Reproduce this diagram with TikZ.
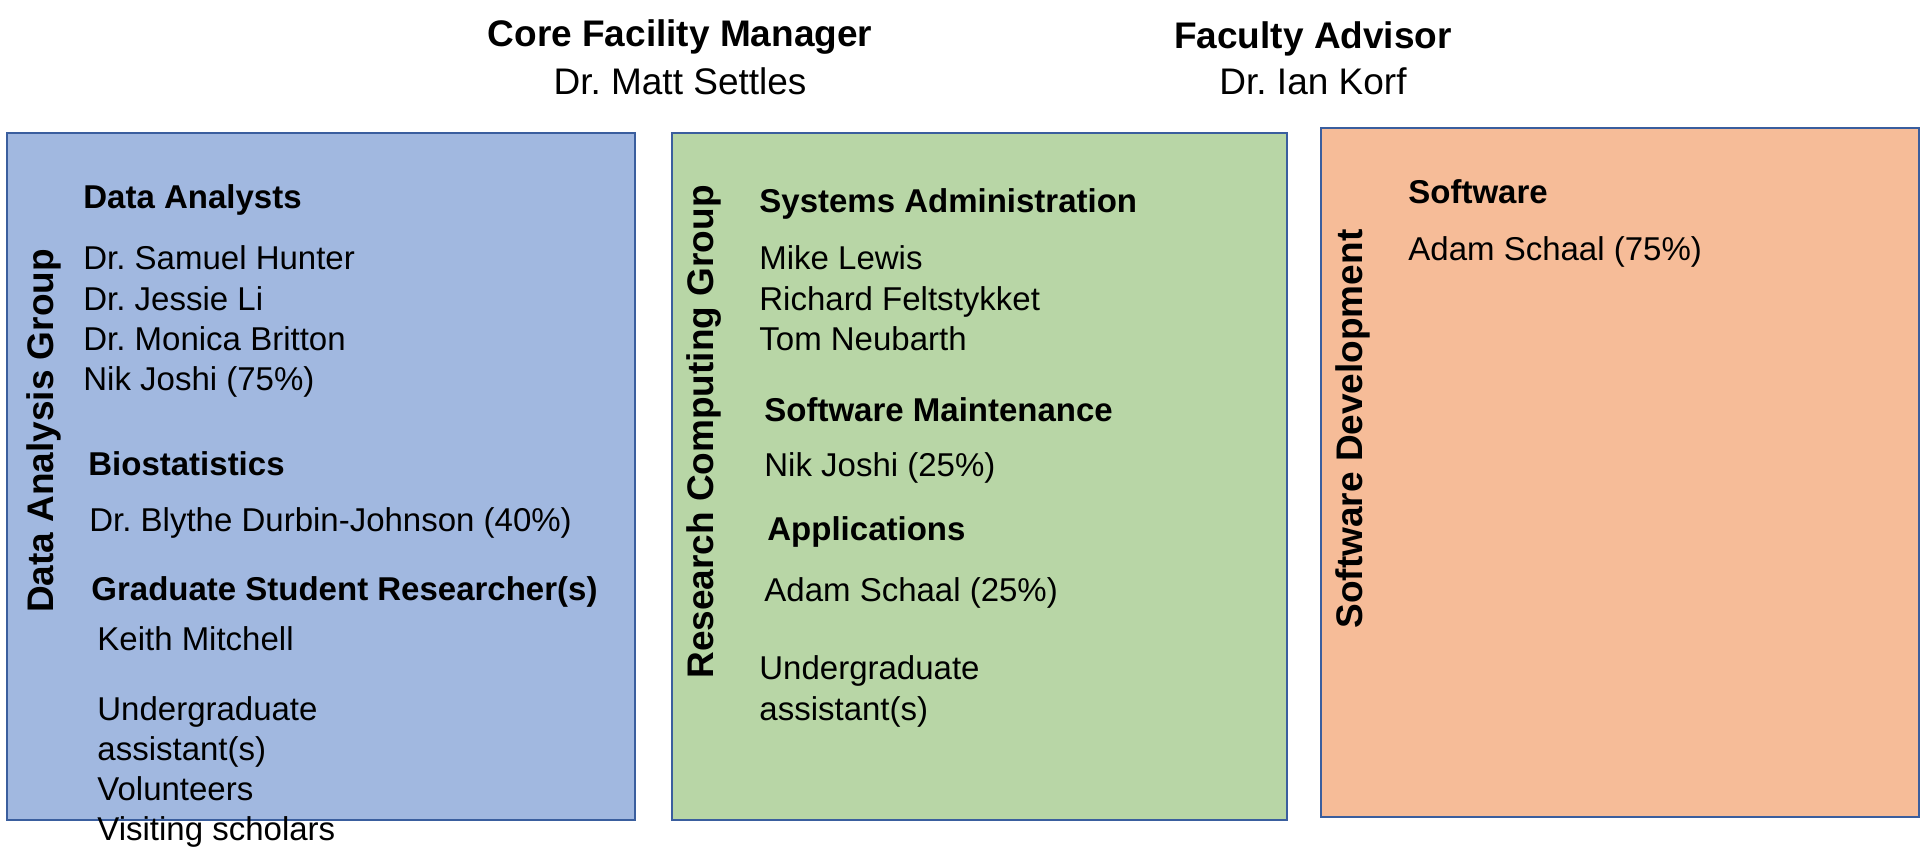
\documentclass[tikz,border=0pt]{standalone}
\usepackage{fontspec}
\setmainfont{Liberation Sans}
\frenchspacing
\definecolor{dagfill}{HTML}{A1B8E0}
\definecolor{rcgfill}{HTML}{B8D6A6}
\definecolor{sdfill}{HTML}{F6BC98}
\definecolor{boxline}{HTML}{3A5E9E}
\begin{document}
\begin{tikzpicture}[x=0.5pt,y=-0.5pt,
  groupbox/.style={draw=boxline, line width=1pt, inner sep=0, anchor=north west},
  title/.style={font=\fontsize{18.5}{22}\selectfont\bfseries, inner sep=0, anchor=base},
  titlename/.style={font=\fontsize{18.5}{22}\selectfont, inner sep=0, anchor=base},
  vlabel/.style={font=\fontsize{18.5}{22}\selectfont\bfseries, inner sep=0, anchor=base, rotate=90},
  head/.style={font=\fontsize{16.5}{20}\selectfont\bfseries, inner sep=0, anchor=base west},
  body/.style={font=\fontsize{16.5}{20}\selectfont, inner sep=0, anchor=base west}]
\useasboundingbox (0,0) rectangle (1920,866);

% leadership
\node[title] (mgr) at (680,47) {Core Facility Manager};
\node[titlename] (mgrname) at (680,95) {Dr. Matt Settles};
\node[title] (adv) at (1313,49) {Faculty Advisor};
\node[titlename] (advname) at (1313,95) {Dr. Ian Korf};

% group boxes
\node[groupbox, fill=dagfill, minimum width=314pt, minimum height=343.5pt] (dag) at (6,132) {};
\node[groupbox, fill=rcgfill, minimum width=307.5pt, minimum height=343.5pt] (rcg) at (671,132) {};
\node[groupbox, fill=sdfill, minimum width=299pt, minimum height=344.5pt] (sd) at (1320,127) {};

% Data Analysis Group
\node[vlabel] (daglabel) at (53,431) {Data Analysis Group};
\node[head] (dahead) at (83,209) {Data Analysts};
\foreach \t [count=\i] in {Dr. Samuel Hunter, Dr. Jessie Li, Dr. Monica Britton, Nik Joshi (75\%)}
  \node[body] (da\i) at (83,{270+40*(\i-1)}) {\t};
\node[head] (biohead) at (88,475) {Biostatistics};
\node[body] (bio1) at (89,531) {Dr. Blythe Durbin-Johnson (40\%)};
\node[head] (gsrhead) at (91,600) {Graduate Student Researcher(s)};
\node[body] (gsr1) at (97,650) {Keith Mitchell};
\foreach \t [count=\i] in {Undergraduate, assistant(s), Volunteers, Visiting scholars}
  \node[body] (daother\i) at (97,{720+40.3*(\i-1)}) {\t};

% Research Computing Group
\node[vlabel] (rcglabel) at (713,432) {Research Computing Group};
\node[head] (sahead) at (759,213) {Systems Administration};
\foreach \t [count=\i] in {Mike Lewis, Richard Feltstykket, Tom Neubarth}
  \node[body] (sa\i) at (759,{270+40*(\i-1)}) {\t};
\node[head] (smhead) at (764,421) {Software Maintenance};
\node[body] (sm1) at (764,476) {Nik Joshi (25\%)};
\node[head] (apphead) at (767,540) {Applications};
\node[body] (app1) at (764,601) {Adam Schaal (25\%)};
\node[body] (rcgother1) at (759,679) {Undergraduate};
\node[body] (rcgother2) at (759,720) {assistant(s)};

% Software Development
\node[vlabel] (sdlabel) at (1362,429) {Software Development};
\node[head] (swhead) at (1408,204) {Software};
\node[body] (sw1) at (1408,260) {Adam Schaal (75\%)};
\end{tikzpicture}
\end{document}
